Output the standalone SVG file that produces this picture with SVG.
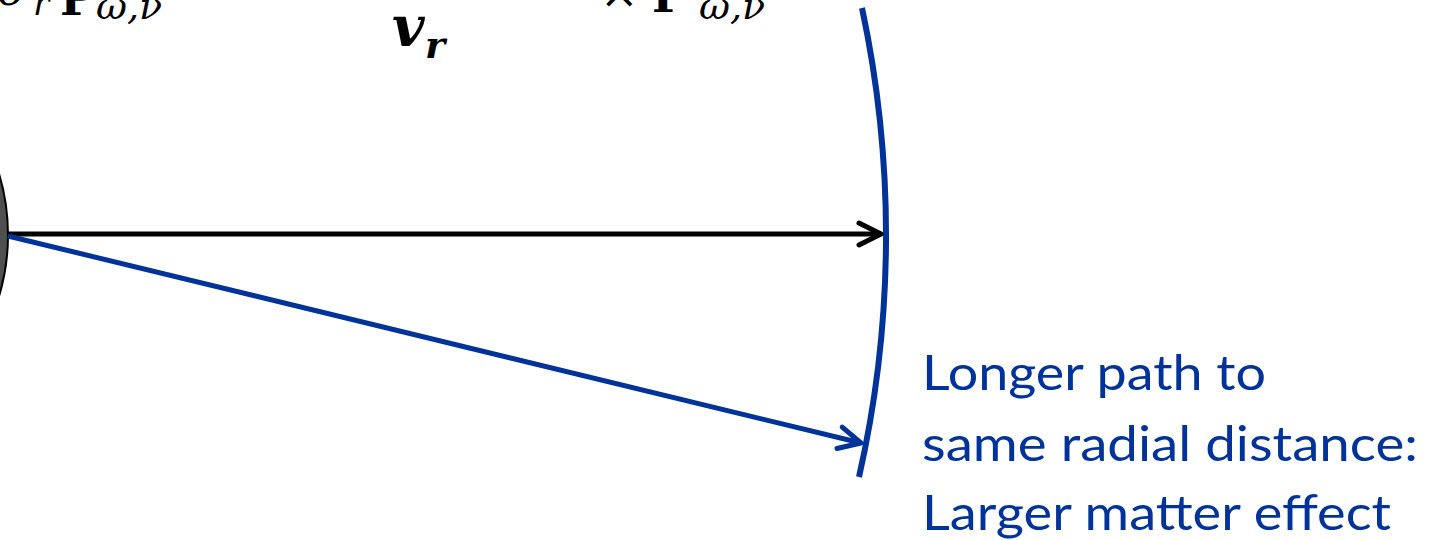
<svg xmlns="http://www.w3.org/2000/svg" width="1437" height="540" viewBox="0 0 1437 540">
<style>
.math{font-family:"DejaVu Serif","Liberation Serif",serif;fill:#000}
.it{font-style:italic}
.bf{font-weight:bold}
.note{font-family:Lato,"Liberation Sans",sans-serif;font-size:48px;fill:#003399}
</style>
<defs>
<marker id="ahBlack" viewBox="-26 -15 30 30" refX="0" refY="0" markerWidth="30" markerHeight="30" markerUnits="userSpaceOnUse" orient="auto">
<path d="M-22,-11 L0,0 L-22,11" fill="none" stroke="#000" stroke-width="5" stroke-linecap="round" stroke-linejoin="round"/>
</marker>
<marker id="ahBlue" viewBox="-26 -15 30 30" refX="0" refY="0" markerWidth="30" markerHeight="30" markerUnits="userSpaceOnUse" orient="auto">
<path d="M-22,-11 L0,0 L-22,11" fill="none" stroke="#003399" stroke-width="5" stroke-linecap="round" stroke-linejoin="round"/>
</marker>
</defs>
<rect width="1437" height="540" fill="#fff"/>
<g id="source">
<circle cx="-205" cy="235" r="213" fill="#505050" stroke="#000" stroke-width="2"/>
</g>
<g id="shell">
<path d="M862,8 A1091,1091 0 0 1 859,477" fill="none" stroke="#003399" stroke-width="6"/>
</g>
<g id="connectors">
<line x1="8" y1="234" x2="881" y2="234" stroke="#000" stroke-width="5" marker-end="url(#ahBlack)"/>
<line x1="8" y1="236" x2="861" y2="443" stroke="#003399" stroke-width="5" marker-end="url(#ahBlue)"/>
</g>
<g id="labels">
<text class="math" font-size="46"><tspan class="it" x="-2" y="5">δ</tspan><tspan class="it" x="33" y="15" font-size="34">r</tspan><tspan class="bf" x="60" y="15">P</tspan><tspan class="it" x="96" y="19" font-size="38">ω,ν</tspan></text>
<text class="math" font-size="56"><tspan class="it bf" x="392" y="46">v</tspan><tspan class="it bf" x="425" y="58" font-size="38">r</tspan></text>
<text class="math" font-size="46"><tspan x="600" y="8">×</tspan><tspan class="bf" x="652" y="12">P</tspan><tspan class="it" x="699" y="19" font-size="38">ω,ν</tspan></text>
</g>
<g id="note">
<text class="note" x="922" y="390" textLength="344" lengthAdjust="spacingAndGlyphs">Longer path to</text>
<text class="note" x="922" y="461" textLength="496" lengthAdjust="spacingAndGlyphs">same radial distance:</text>
<text class="note" x="922" y="530" textLength="469" lengthAdjust="spacingAndGlyphs">Larger matter effect</text>
</g>
</svg>
